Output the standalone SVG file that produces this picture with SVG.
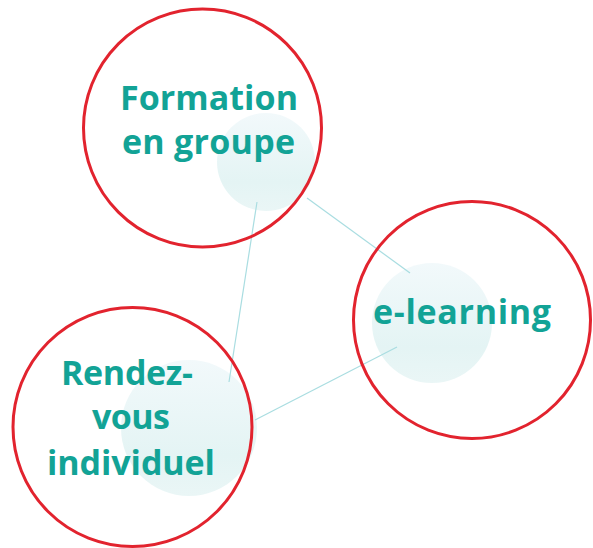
<svg xmlns="http://www.w3.org/2000/svg" width="593" height="548" viewBox="0 0 593 548">
<defs>
<linearGradient id="soft" x1="0" y1="0" x2="0" y2="1">
<stop offset="0" stop-color="#f2f9fb"/>
<stop offset="0.7" stop-color="#e4f4f4"/>
<stop offset="1" stop-color="#eaf6f6"/>
</linearGradient>
</defs>
<style>
.ring{fill:none;stroke:#e2232e;stroke-width:3}
.blob{fill:url(#soft)}
.lbl{font-family:"Open Sans","Noto Sans",sans-serif;font-weight:bold;font-size:34px;fill:#12a396;text-anchor:middle}
.conn{stroke:#a9dde1;stroke-width:1.2;fill:none}
</style>
<g id="backgrounds">
<circle class="blob" cx="266" cy="162" r="49"/>
<circle class="blob" cx="432" cy="323" r="60"/>
<circle class="blob" cx="189" cy="428" r="68"/>
</g>
<g id="connectors">
<line class="conn" x1="257" y1="202" x2="229" y2="382"/>
<line class="conn" x1="307" y1="198" x2="410" y2="273"/>
<line class="conn" x1="397" y1="347" x2="255" y2="420"/>
</g>
<g id="formation">
<circle class="ring" cx="202.5" cy="128" r="119"/>
<text class="lbl" x="209" y="110" textLength="178" lengthAdjust="spacing">Formation</text>
<text class="lbl" x="208.5" y="154" textLength="173" lengthAdjust="spacing">en groupe</text>
</g>
<g id="elearning">
<circle class="ring" cx="472" cy="320" r="118.5"/>
<text class="lbl" x="462" y="324" textLength="178" lengthAdjust="spacing">e-learning</text>
</g>
<g id="rendezvous">
<circle class="ring" cx="132.5" cy="427" r="119.5"/>
<text class="lbl" x="127" y="385" textLength="132" lengthAdjust="spacing">Rendez-</text>
<text class="lbl" x="131" y="429" textLength="78" lengthAdjust="spacing">vous</text>
<text class="lbl" x="131" y="475" textLength="168" lengthAdjust="spacing">individuel</text>
</g>
</svg>
